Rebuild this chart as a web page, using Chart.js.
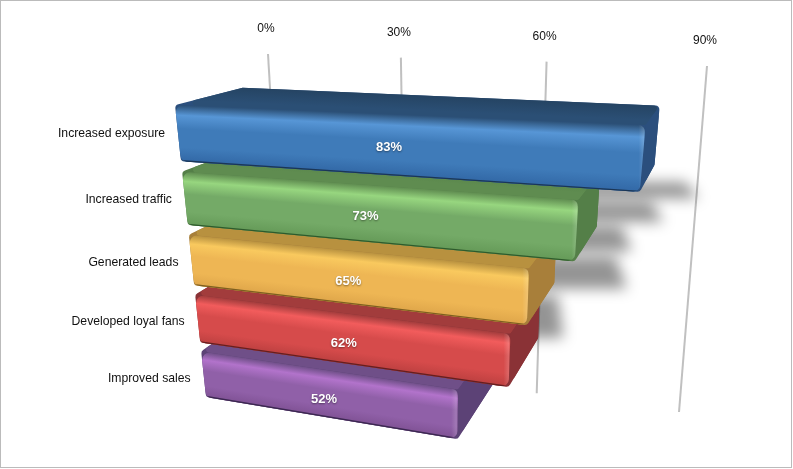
<!DOCTYPE html>
<html>
<head>
<meta charset="utf-8">
<script src="https://cdn.jsdelivr.net/npm/chart.js@4"></script>
<style>
  html, body { margin: 0; padding: 0; background: #fff; overflow: hidden; }
  #frame { position: absolute; left: 0; top: 0; width: 792px; height: 468px; box-sizing: border-box; border: 1px solid #bbb; }
  #chart { position: absolute; left: 0; top: 0; }
</style>
</head>
<body>
<div id="frame"></div>
<canvas id="chart" width="793" height="469"></canvas>
<script>
const categories = ["Increased exposure", "Increased traffic", "Generated leads", "Developed loyal fans", "Improved sales"];
const values = [83, 73, 65, 62, 52];
const tickValues = [0, 30, 60, 90];
const baseValue = -6;

// back, lip, highlight, body, lower, side, outline
const shades = [
  ["#254463", "#2b4f75", "#5796d6", "#3f7bb9", "#3268a6", "#2b4f7d", "#1b3656"],
  ["#4f7a42", "#5f8c50", "#97d67f", "#74aa67", "#659a58", "#547f48", "#2e5a2c"],
  ["#a37f35", "#b8913f", "#f9c95e", "#eeb654", "#dfa64a", "#a87f3a", "#7d5f20"],
  ["#8c3334", "#a23c3c", "#f25c5c", "#d64b4b", "#bd4040", "#8a3236", "#641f20"],
  ["#5f4277", "#6f4f88", "#b273cb", "#9060a8", "#805295", "#5c4276", "#3b2850"],
];

// where the flat plot lands on the page
const frontQuad = [[175, 105], [691, 127], [654, 472], [206, 397]];
const gridQuad = [[268, 54], [707, 66], [679, 412], [286, 360]];
const shadowQuad = [[277, 182], [717, 182], [872, 338], [92, 338]];
const vanish = [770, -47];
const depth = 0.113;

function quadMatrix(q) {
  const [[x0, y0], [x1, y1], [x2, y2], [x3, y3]] = q;
  const dx1 = x1 - x2, dx2 = x3 - x2, sx = x0 - x1 + x2 - x3;
  const dy1 = y1 - y2, dy2 = y3 - y2, sy = y0 - y1 + y2 - y3;
  const den = dx1 * dy2 - dx2 * dy1;
  const g = (sx * dy2 - dx2 * sy) / den;
  const h = (dx1 * sy - sx * dy1) / den;
  const a = x1 - x0 + g * x1, b = x3 - x0 + h * x3;
  const d = y1 - y0 + g * y1, e = y3 - y0 + h * y3;
  return (u, v) => {
    const w = g * u + h * v + 1;
    return [(a * u + b * v + x0) / w, (d * u + e * v + y0) / w];
  };
}

function toBack(p) {
  return [p[0] + (vanish[0] - p[0]) * depth, p[1] + (vanish[1] - p[1]) * depth];
}

function roundedPath(ctx, pts, r) {
  const n = pts.length;
  const last = pts[n - 1], first = pts[0];
  ctx.beginPath();
  ctx.moveTo((last[0] + first[0]) / 2, (last[1] + first[1]) / 2);
  for (let i = 0; i < n; i++) {
    const p = pts[i], q = pts[(i + 1) % n];
    ctx.arcTo(p[0], p[1], q[0], q[1], r);
  }
  ctx.closePath();
}

// shades a face one pixel column at a time, so the bands follow its slanted edges
function shadeColumns(ctx, upperA, upperB, lowerA, lowerB, stops) {
  const lineY = (a, b, x) => a[1] + (b[1] - a[1]) * (x - a[0]) / (b[0] - a[0]);
  const xMin = Math.floor(Math.min(upperA[0], lowerA[0])) - 1;
  const xMax = Math.ceil(Math.max(upperB[0], lowerB[0])) + 1;
  for (let x = xMin; x < xMax; x++) {
    const y0 = lineY(upperA, upperB, x + 0.5), y1 = lineY(lowerA, lowerB, x + 0.5);
    const g = ctx.createLinearGradient(0, y0, 0, y1);
    stops.forEach((st) => g.addColorStop(st[0], st[1]));
    ctx.fillStyle = g;
    ctx.fillRect(x, y0 - 1, 1, y1 - y0 + 2);
  }
}

const perspectiveBars = {
  id: "perspectiveBars",
  afterDatasetsDraw(chart) {
    const ctx = chart.ctx;
    const xs = chart.scales.x;
    const bars = chart.getDatasetMeta(0).data;
    const maxTick = tickValues[tickValues.length - 1];
    const px0 = xs.getPixelForValue(baseValue);
    const px1 = xs.getPixelForValue(maxTick);
    const py0 = bars[0].y - bars[0].height / 2;
    const py1 = bars[bars.length - 1].y + bars[bars.length - 1].height / 2;
    const frontMap = quadMatrix(frontQuad);
    const shadowMap = quadMatrix(shadowQuad);
    const gridMap = quadMatrix(gridQuad);
    const project = (px, py) => frontMap((px - px0) / (px1 - px0), (py - py0) / (py1 - py0));
    const projectShadow = (px, py) => shadowMap((px - px0) / (px1 - px0), (py - py0) / (py1 - py0));

    // grid lines and their labels sit behind the bars
    ctx.save();
    tickValues.forEach((t) => {
      const u = (xs.getPixelForValue(t) - xs.getPixelForValue(0)) / (px1 - xs.getPixelForValue(0));
      const top = gridMap(u, 0), bottom = gridMap(u, 1);
      ctx.strokeStyle = "#c0c0c0";
      ctx.lineWidth = 2;
      ctx.beginPath();
      ctx.moveTo(top[0], top[1]);
      ctx.lineTo(bottom[0], bottom[1]);
      ctx.stroke();
      ctx.fillStyle = "#111";
      ctx.font = "12px 'Liberation Sans'";
      ctx.textAlign = "center";
      ctx.textBaseline = "middle";
      ctx.fillText(t + "%", top[0] - 2, top[1] - 25);
    });
    ctx.restore();

    // soft shadows on the wall behind the bar ends
    ctx.save();
    ctx.filter = "blur(7px)";
    ctx.fillStyle = "rgba(0,0,0,0.42)";
    bars.forEach((bar) => {
      const y0 = bar.y - bar.height / 2, y1 = bar.y + bar.height / 2;
      const from = (bar.base + bar.x) / 2;
      const pts = [projectShadow(from, y0), projectShadow(bar.x, y0), projectShadow(bar.x, y1), projectShadow(from, y1)];
      ctx.beginPath();
      pts.forEach((p, n) => {
        if (n) ctx.lineTo(p[0], p[1]); else ctx.moveTo(p[0], p[1]);
      });
      ctx.closePath();
      ctx.fill();
    });
    ctx.restore();

    // bottom bar first, the bar above overlaps it
    for (let i = bars.length - 1; i >= 0; i--) {
      const bar = bars[i];
      const s = shades[i];
      const yt = bar.y - bar.height / 2, yb = bar.y + bar.height / 2;
      const tl = project(bar.base, yt), tr = project(bar.x, yt), br = project(bar.x, yb), bl = project(bar.base, yb);
      const btl = toBack(tl), btr = toBack(tr), bbr = toBack(br);

      roundedPath(ctx, [tl, btl, btr, bbr, br, bl], 4);
      ctx.fillStyle = s[5];
      ctx.fill();

      ctx.save();
      roundedPath(ctx, [btl, btr, tr, tl], 3);
      ctx.clip();
      shadeColumns(ctx, btl, btr, tl, tr, [[0, s[0]], [0.75, s[1]], [1, s[1]]]);
      ctx.restore();

      roundedPath(ctx, [tr, btr, bbr, br], 3);
      ctx.fillStyle = s[5];
      ctx.fill();

      ctx.save();
      roundedPath(ctx, [tl, tr, br, bl], 7);
      ctx.clip();
      shadeColumns(ctx, tl, tr, bl, br, [[0, s[1]], [0.18, s[2]], [0.42, s[3]], [0.75, s[3]], [1, s[4]]]);
      // rounded front edge catches the light
      const g = ctx.createLinearGradient(tr[0] - 7, 0, tr[0], 0);
      g.addColorStop(0, "rgba(255,255,255,0)");
      g.addColorStop(0.75, "rgba(255,255,255,0.16)");
      g.addColorStop(1, "rgba(0,0,0,0.12)");
      ctx.fillStyle = g;
      ctx.fillRect(tr[0] - 7, Math.min(tr[1], br[1]) - 2, 8, Math.abs(br[1] - tr[1]) + 4);
      ctx.strokeStyle = s[6];
      ctx.lineWidth = 2;
      ctx.beginPath();
      ctx.moveTo(bl[0], bl[1] - 0.3);
      ctx.lineTo(br[0], br[1] - 0.3);
      ctx.stroke();
      ctx.restore();

      // labels are flat text placed with the projection
      const midLeft = project(bar.base, bar.y);
      ctx.fillStyle = "#111";
      ctx.font = "12.2px 'Liberation Sans'";
      ctx.textAlign = "right";
      ctx.textBaseline = "middle";
      ctx.fillText(categories[i], midLeft[0] - 13, midLeft[1] + i);

      const mid = project((bar.base + bar.x) / 2, bar.y);
      ctx.save();
      ctx.fillStyle = "#fff";
      ctx.font = "bold 13px 'Liberation Sans'";
      ctx.textAlign = "center";
      ctx.shadowColor = "rgba(0,0,0,0.45)";
      ctx.shadowBlur = 2;
      ctx.shadowOffsetY = 1;
      ctx.fillText(values[i] + "%", mid[0], mid[1] + 2 + i);
      ctx.restore();
    }
  },
};

new Chart(document.getElementById("chart"), {
  type: "bar",
  data: {
    labels: categories,
    datasets: [
      {
        data: values,
        base: baseValue,
        backgroundColor: "transparent",
        categoryPercentage: 1,
        barPercentage: 0.84,
      },
    ],
  },
  options: {
    indexAxis: "y",
    responsive: false,
    animation: false,
    scales: {
      x: {
        display: false,
        min: baseValue,
        max: tickValues[tickValues.length - 1],
        afterBuildTicks: (scale) => { scale.ticks = tickValues.map((value) => ({ value })); },
      },
      y: { display: false },
    },
    plugins: {
      legend: { display: false },
      tooltip: { enabled: false },
    },
  },
  plugins: [perspectiveBars],
});
</script>
</body>
</html>
